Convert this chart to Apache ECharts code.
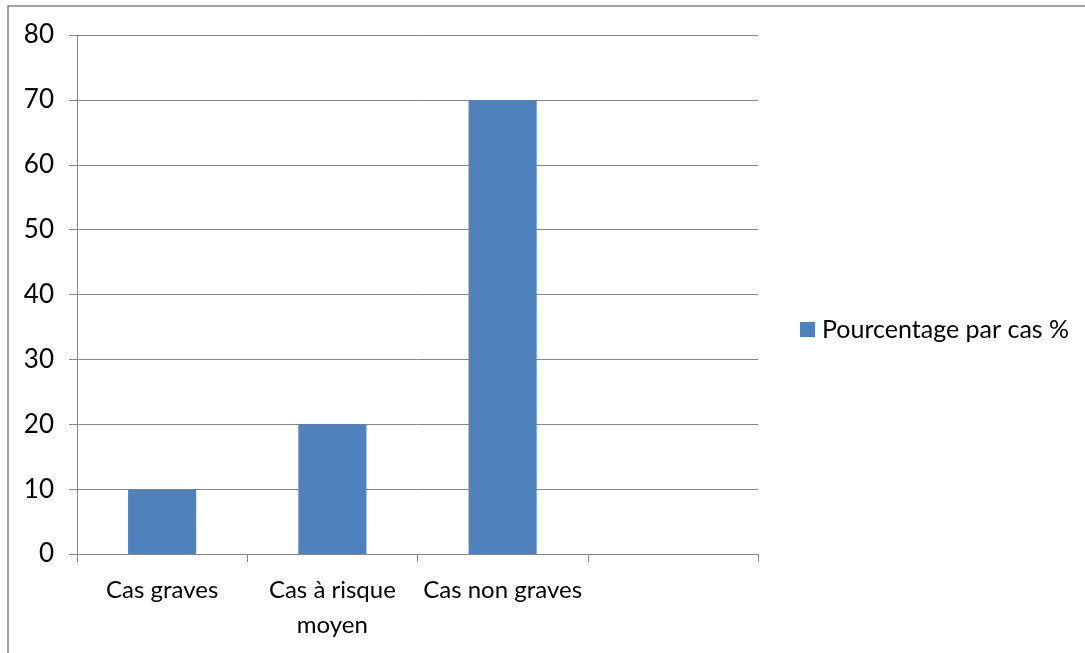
<!DOCTYPE html>
<html>
<head>
<meta charset="utf-8">
<script src="https://cdn.jsdelivr.net/npm/echarts@6/dist/echarts.min.js"></script>
<style>
  html, body { margin: 0; padding: 0; background: #ffffff; }
  #chart { width: 1085px; height: 653px; }
</style>
</head>
<body>
<div id="chart"></div>
<script>
// Categories on the x axis (the last slot is left empty)
const categories = ['Cas graves', 'Cas à risque\nmoyen', 'Cas non graves', ''];
// Percentage per case
const seriesName = 'Pourcentage par cas %';
const values = [10, 20, 70, null];
// Value axis range
const yMin = 0;
const yMax = 80;
const yStep = 10;

const axisGrey = '#878787';
const barBlue = '#4F81BD';
const fontFamily = 'Lato, "Open Sans", sans-serif';

const chart = echarts.init(document.getElementById('chart'), null, { renderer: 'canvas' });

chart.setOption({
  backgroundColor: '#ffffff',
  animation: false,
  graphic: [{
    type: 'rect',
    shape: { x: 8, y: 6, width: 1200, height: 800 },
    style: { fill: 'none', stroke: axisGrey, lineWidth: 1.6 },
    silent: true
  }],
  grid: { left: 77, top: 35, width: 681, height: 519, containLabel: false },
  legend: {
    left: 800,
    top: 317,
    padding: 0,
    orient: 'vertical',
    icon: 'rect',
    itemWidth: 15,
    itemHeight: 15,
    itemGap: 8,
    textStyle: { fontFamily: fontFamily, fontSize: 25, color: '#000000', padding: [0, 0, 0, 2] },
    data: [seriesName]
  },
  xAxis: {
    type: 'category',
    data: categories,
    boundaryGap: true,
    axisLine: { show: true, lineStyle: { color: axisGrey, width: 1 } },
    axisTick: { show: true, length: 8, inside: false, alignWithLabel: false, lineStyle: { color: axisGrey, width: 1 } },
    axisLabel: {
      interval: 0,
      margin: 19,
      fontFamily: fontFamily,
      fontSize: 24,
      lineHeight: 35,
      color: '#000000',
      align: 'center'
    },
    splitLine: { show: false }
  },
  yAxis: {
    type: 'value',
    min: yMin,
    max: yMax,
    interval: yStep,
    axisLine: { show: true, lineStyle: { color: axisGrey, width: 1 } },
    axisTick: { show: true, length: 8, inside: false, lineStyle: { color: axisGrey, width: 1 } },
    axisLabel: {
      margin: 23,
      fontFamily: fontFamily,
      fontSize: 26,
      color: '#000000'
    },
    splitLine: { show: true, lineStyle: { color: axisGrey, width: 1 } }
  },
  series: [{
    name: seriesName,
    type: 'bar',
    data: values,
    barWidth: '40%',
    itemStyle: { color: barBlue }
  }]
});
</script>
</body>
</html>
